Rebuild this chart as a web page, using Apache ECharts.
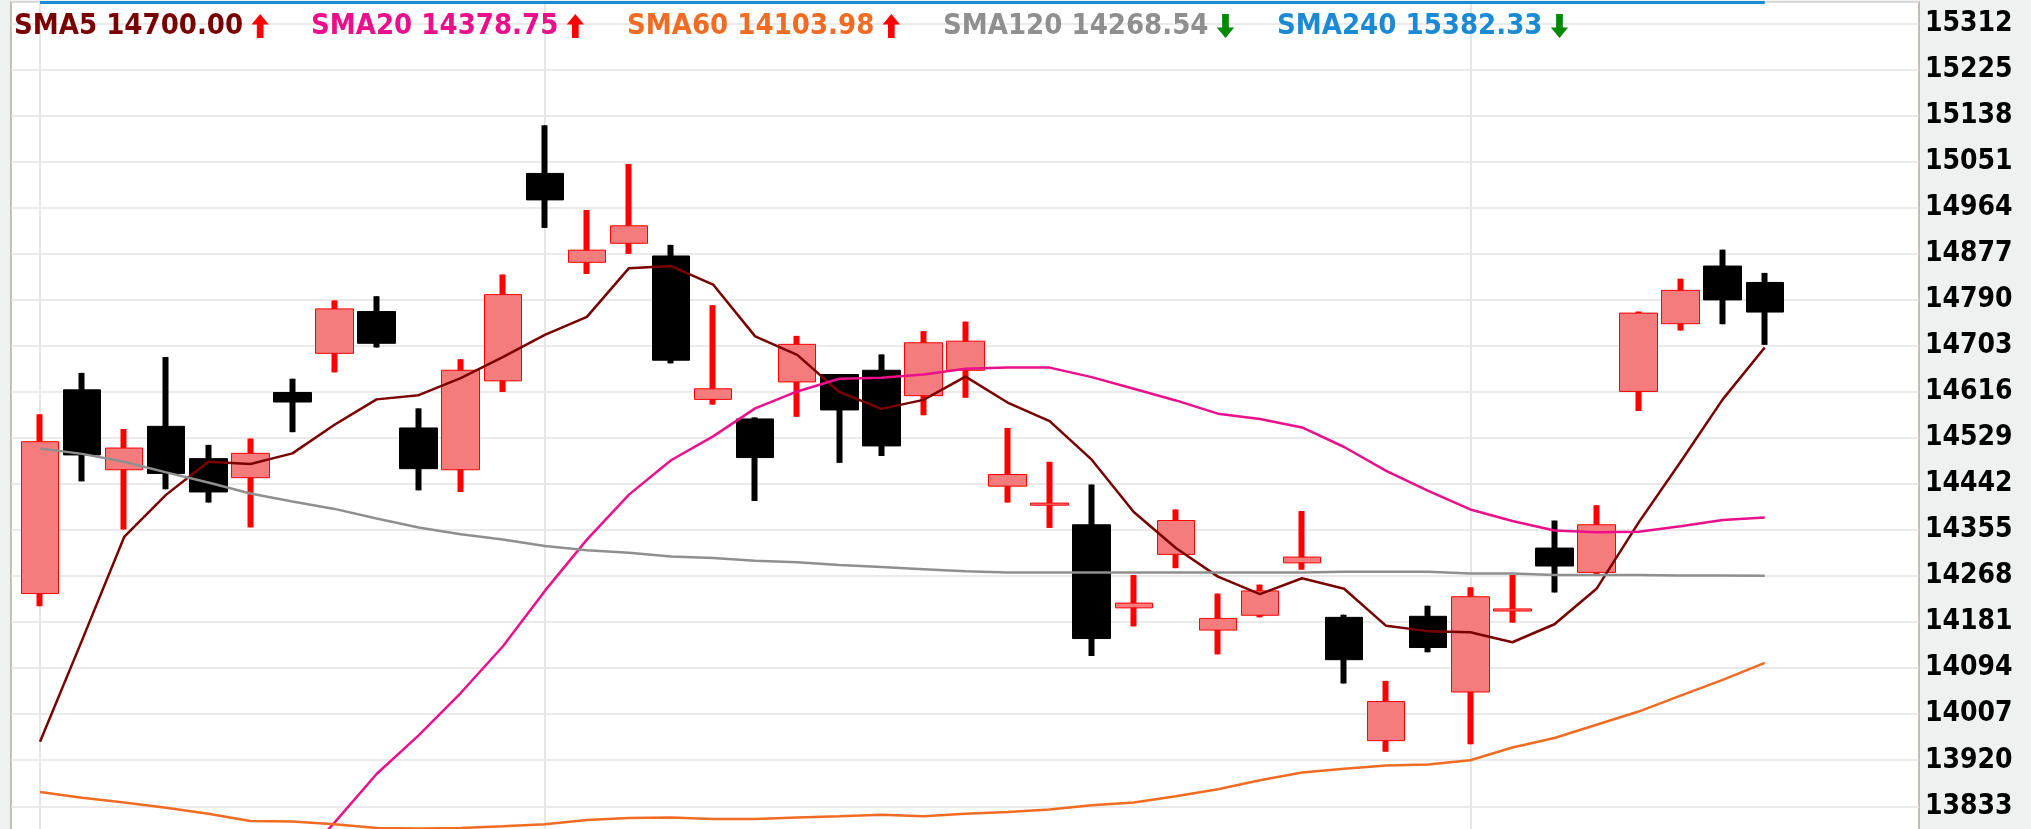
<!DOCTYPE html>
<html>
<head>
<meta charset="utf-8">
<script src="https://cdn.jsdelivr.net/npm/echarts@6/dist/echarts.min.js"></script>
<style>
html,body{margin:0;padding:0;background:#eff1f1;}
#chart{width:2031px;height:829px;}
</style>
</head>
<body>
<div id="chart"></div>
<script>
// ---------- DATA ----------
const categories = ['1','2','3','4','5','6','7','8','9','10','11','12','13','14','15','16','17','18','19','20','21',
  '22','23','24','25','26','27','28','29','30','31','32','33','34','35','36','37','38','39','40','41','42'];

const opens  = [14235,14620,14469,14551,14490,14454,14615,14689,14768,14548,14469,14637,15029,14861,14897,14873,14602,14565,14635,14649,14657,
                14609,14657,14438,14402,14365,14208,14309,14166,14194,14293,14190,13957,14192,14049,14202,14321,14275,14617,14745,14854,14823];
const closes = [14522,14497,14510,14462,14427,14500,14597,14773,14708,14471,14657,14800,14979,14884,14930,14676,14622,14492,14706,14582,14514,
                14709,14712,14460,14406,14150,14217,14373,14188,14240,14304,14110,14031,14133,14229,14206,14287,14365,14765,14808,14790,14767];
const lows   = [14211,14447,14356,14432,14407,14360,14540,14653,14700,14430,14427,14616,14926,14839,14877,14670,14592,14410,14569,14482,14495,
                14572,14605,14407,14359,14117,14173,14283,14120,14190,14280,14065,13936,14124,13950,14180,14237,14271,14580,14732,14744,14705];
const highs  = [14574,14652,14546,14682,14516,14528,14641,14789,14797,14585,14678,14838,15120,14960,15047,14894,14780,14568,14722,14650,14687,
                14731,14749,14548,14484,14441,14270,14394,14235,14252,14391,14195,14070,14212,14247,14270,14373,14402,14768,14830,14885,14841];

const sma5   = [13955,14147,14342,14422,14484,14480,14500,14554,14602,14610,14642,14682,14724,14758,14850,14854,14819,14721,14686,14616,14584,
                14601,14645,14596,14561,14488,14389,14321,14267,14234,14264,14244,14174,14164,14162,14143,14177,14244,14369,14484,14602,14700.00];
const sma20  = [null,null,null,null,null,null,13715,13802,13894,13967,14047,14135,14240,14337,14422,14487,14532,14585,14617,14641,14643,
                14649,14660,14662,14662,14644,14622,14600,14575,14565,14549,14512,14467,14429,14394,14372,14354,14351,14352,14362,14374,14378.75];
const sma60  = [13860,13849,13840,13830,13819,13805,13804,13799,13792,13791,13792,13795,13799,13807,13811,13812,13809,13809,13812,13814,13817,
                13814,13819,13822,13827,13835,13840,13852,13865,13882,13897,13904,13910,13912,13920,13944,13962,13987,14012,14042,14072,14103.98];
const sma120 = [14509,14499,14484,14464,14445,14424,14409,14395,14377,14360,14347,14337,14325,14317,14312,14305,14302,14297,14294,14289,14285,
                14281,14277,14275,14275,14275,14275,14275,14275,14275,14275,14276,14276,14276,14273,14273,14270,14270,14270,14269,14269,14268.54];
const sma240 = [15410,15409,15408,15408,15407,15406,15405,15404,15404,15403,15402,15401,15400,15399,15399,15398,15397,15396,15396,15395,15394,
                15393,15393,15392,15391,15391,15390,15389,15389,15388,15387,15387,15386,15386,15385,15385,15384,15384,15383,15383,15382,15382.33];

const maNames  = ['SMA5','SMA20','SMA60','SMA120','SMA240'];
const maLabels = ['14700.00','14378.75','14103.98','14268.54','15382.33'];
const maTrend  = ['up','up','up','down','down'];
const monthStarts = ['1','13','35'];   // categories with vertical grid lines

// y scale (ticks are multiples of 87)
const Y_MIN = 13746, Y_MAX = 15353, Y_STEP = 87;

// ---------- STYLE ----------
const maColors = ['#7a0000','#ec0f8c','#f26b22','#8f8f8f','#1a8ad4'];
const FONT = "'DejaVu Sans Condensed', 'DejaVu Sans', sans-serif";
const legendLeft = [14, 311, 627, 943, 1277];
const ARROW_UP = 'path://M9,0 L18,11 L12.5,11 L12.5,25 L5.5,25 L5.5,11 L0,11 Z';
const ARROW_DOWN = 'path://M9,25 L18,14 L12.5,14 L12.5,0 L5.5,0 L5.5,14 L0,14 Z';

const candleData = opens.map((o, i) => [o, closes[i], lows[i], highs[i]]);
const maData = [sma5, sma20, sma60, sma120, sma240];

const chart = echarts.init(document.getElementById('chart'), null, {renderer: 'canvas'});

const legends = maNames.map((n, i) => ({
  data: [n],
  left: legendLeft[i],
  top: 11,
  align: 'right',
  icon: maTrend[i] === 'up' ? ARROW_UP : ARROW_DOWN,
  itemWidth: 18,
  itemHeight: 24,
  selectedMode: false,
  padding: 0,
  itemStyle: {color: maTrend[i] === 'up' ? '#ff0000' : '#008a00', borderWidth: 0},
  lineStyle: {width: 0},
  formatter: name => name + ' ' + maLabels[i],
  textStyle: {color: maColors[i], fontFamily: FONT, fontWeight: 'bold', fontSize: 29, lineHeight: 30, padding: [0, 3, 0, 0]}
}));

const lineSeries = maNames.map((n, i) => {
  const s = {
    name: n,
    type: 'line',
    xAxisIndex: 1,
    yAxisIndex: 1,
    data: maData[i],
    showSymbol: false,
    symbol: 'none',
    silent: true,
    z: 4,
    lineStyle: {color: maColors[i], width: 2.5},
    itemStyle: {color: maColors[i]},
    emphasis: {disabled: true}
  };
  if (n === 'SMA240') {
    s.markLine = {
      z: 6, silent: true, symbol: 'none', label: {show: false},
      lineStyle: {color: maColors[i], width: 3, type: 'solid'},
      emphasis: {disabled: true},
      data: [[{coord: [categories[0], Y_MAX]}, {coord: [categories[categories.length - 1], Y_MAX]}]]
    };
  }
  return s;
});

const GRID_TOP = 2, GRID_H = 850.3;

const option = {
  animation: false,
  backgroundColor: '#eff1f1',
  legend: legends,
  grid: [
    {left: 11, right: 112, top: GRID_TOP, height: GRID_H, outerBoundsMode: 'none', containLabel: false,
     show: true, backgroundColor: '#ffffff', borderColor: '#b3aaa2', borderWidth: 1.5},
    {left: 19, right: 119, top: GRID_TOP, height: GRID_H, outerBoundsMode: 'none', containLabel: false, show: false}
  ],
  xAxis: [
    {gridIndex: 0, type: 'value', min: 0, max: 1, show: false},
    {gridIndex: 1, type: 'category', data: categories, max: 44, boundaryGap: true, show: false}
  ],
  yAxis: [
    {
      gridIndex: 0, type: 'value', position: 'right', min: Y_MIN, max: Y_MAX, interval: Y_STEP,
      axisLine: {show: false}, axisTick: {show: false},
      axisLabel: {color: '#000', fontFamily: FONT, fontWeight: 'bold', fontSize: 28, margin: 6,
                  showMinLabel: false, showMaxLabel: false, formatter: v => String(v)},
      splitLine: {show: true, lineStyle: {color: '#e3e3e3', width: 1.5}}
    },
    {gridIndex: 1, type: 'value', min: Y_MIN, max: Y_MAX, show: false, splitLine: {show: false}}
  ],
  series: [
    {
      name: 'wick', type: 'candlestick', xAxisIndex: 1, yAxisIndex: 1, data: candleData,
      barWidth: 1, z: 2, silent: true, emphasis: {disabled: true},
      itemStyle: {color: '#ff0000', color0: '#000000', borderColor: '#ff0000', borderColor0: '#000000', borderWidth: 6},
      markLine: {
        z: 1, silent: true, symbol: 'none', label: {show: false},
        lineStyle: {color: '#e6e6e6', width: 2, type: 'solid'},
        emphasis: {disabled: true},
        data: monthStarts.map(c => ({xAxis: c}))
      }
    },
    {
      name: 'K', type: 'candlestick', xAxisIndex: 1, yAxisIndex: 1, data: candleData,
      barWidth: 38, z: 3, silent: true, emphasis: {disabled: true},
      itemStyle: {color: '#f47c7c', color0: '#000000', borderColor: '#ff0000', borderColor0: '#000000', borderWidth: 1}
    }
  ].concat(lineSeries)
};

chart.setOption(option);
</script>
</body>
</html>
